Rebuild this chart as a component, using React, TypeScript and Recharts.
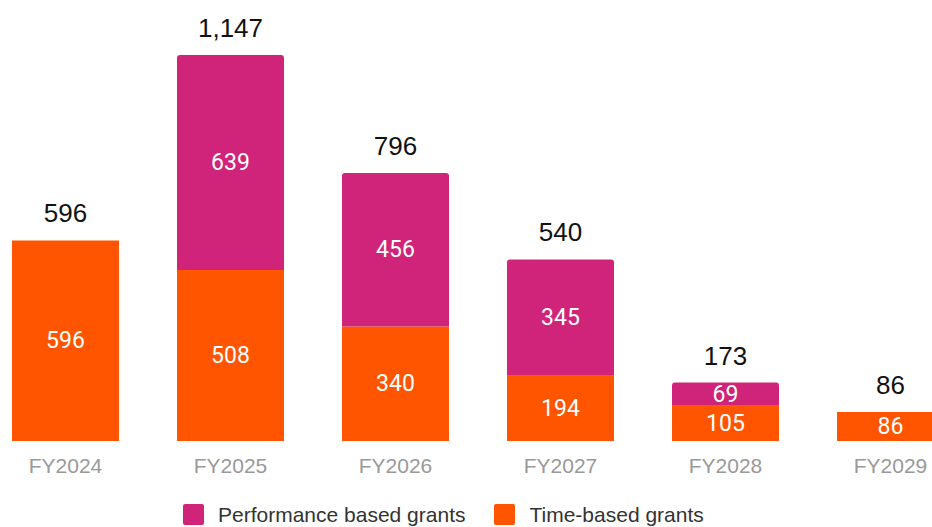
import React from 'react';
import { BarChart, Bar, XAxis, YAxis, LabelList } from 'recharts';

const years = ['FY2024', 'FY2025', 'FY2026', 'FY2027', 'FY2028', 'FY2029'];
const timeBased = [596, 508, 340, 194, 105, 86];
const performance = [0, 639, 456, 345, 69, 0];
const totals = [596, 1147, 796, 540, 173, 86];

const ORANGE = '#FF5500';
const MAGENTA = '#CF2479';

const data = years.map((year, i) => ({
  year,
  time: timeBased[i],
  perf: performance[i],
  total: totals[i],
}));

const fmt = (v: number) => v.toLocaleString('en-US');

function InnerLabel(props: any) {
  const { x, y, width, height, value } = props;
  if (!value) return null;
  return (
    <text
      x={x + width / 2}
      y={y + height / 2}
      textAnchor="middle"
      dominantBaseline="central"
      fill="#fff"
      fontSize={23}
      fontFamily="Roboto, sans-serif"
    >
      {value}
    </text>
  );
}

function TotalLabel(props: any) {
  const { x, y, width, value } = props;
  return (
    <text
      x={x + width / 2}
      y={y - 27}
      textAnchor="middle"
      dominantBaseline="central"
      fill="#111"
      fontSize={26}
      fontFamily="'Liberation Sans', Arial, sans-serif"
    >
      {fmt(value)}
    </text>
  );
}

function YearTick(props: any) {
  const { x, y, payload } = props;
  return (
    <text
      x={x}
      y={y + 24}
      textAnchor="middle"
      dominantBaseline="central"
      fill="#999"
      fontSize={21}
      fontFamily="'Liberation Sans', Arial, sans-serif"
    >
      {payload.value}
    </text>
  );
}

export default function App() {
  return (
    <div style={{ position: 'relative', width: 932, height: 527, overflow: 'hidden' }}>
      <style>{`body{margin:0;overflow:hidden}`}</style>
      <div style={{ position: 'absolute', left: -17, top: 0 }}>
        <BarChart
          width={990}
          height={527}
          data={data}
          margin={{ top: 55, right: 0, left: 0, bottom: 46 }}
          barSize={107}
        >
          <XAxis
            dataKey="year"
            axisLine={false}
            tickLine={false}
            tickSize={0}
            tickMargin={0}
            height={40}
            interval={0}
            tick={<YearTick />}
          />
          <XAxis dataKey="year" xAxisId="totals" hide />
          <YAxis hide domain={[0, 1147]} />
          <Bar dataKey="time" stackId="a" fill={ORANGE} isAnimationActive={false}>
            <LabelList dataKey="time" content={<InnerLabel />} />
          </Bar>
          <Bar dataKey="perf" stackId="a" fill={MAGENTA} radius={[3, 3, 0, 0]} isAnimationActive={false}>
            <LabelList dataKey="perf" content={<InnerLabel />} />
          </Bar>
          <Bar dataKey="total" xAxisId="totals" fill="none" isAnimationActive={false}>
            <LabelList dataKey="total" content={<TotalLabel />} />
          </Bar>
        </BarChart>
      </div>
      <div
        style={{
          position: 'absolute',
          top: 504,
          left: 183,
          height: 21,
          display: 'flex',
          alignItems: 'center',
          fontFamily: "'Liberation Sans', Arial, sans-serif",
          fontSize: 21,
          color: '#333',
        }}
      >
        <span style={{ width: 21, height: 21, background: MAGENTA, borderRadius: 2, display: 'inline-block' }} />
        <span style={{ marginLeft: 14 }}>Performance based grants</span>
        <span
          style={{ width: 21, height: 21, background: ORANGE, borderRadius: 2, display: 'inline-block', marginLeft: 29 }}
        />
        <span style={{ marginLeft: 14 }}>Time-based grants</span>
      </div>
    </div>
  );
}
